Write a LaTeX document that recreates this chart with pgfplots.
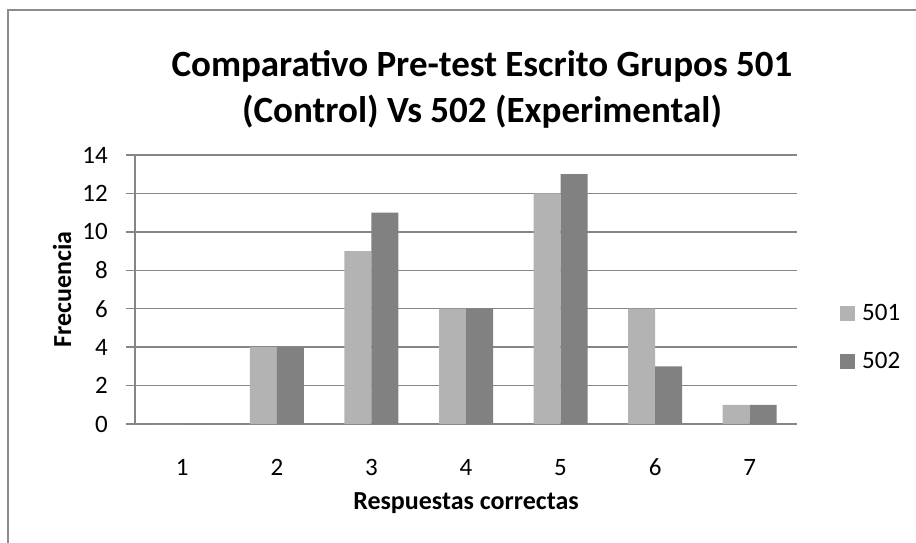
\documentclass[border=0pt]{standalone}
\usepackage{pgfplots}
\pgfplotsset{compat=1.18}
\usepackage{fontspec}
\setmainfont{Carlito}
\definecolor{gridc}{HTML}{868686}
\definecolor{lightbar}{HTML}{B3B3B3}
\definecolor{darkbar}{HTML}{818181}
\definecolor{framec}{HTML}{8C8C8C}
\begin{document}
\begin{tikzpicture}[x=1pt,y=1pt]
\useasboundingbox (0,0) rectangle (916,542);
\draw[framec, line width=2pt] (8,-5) -- (8,532) -- (921,532);
\node[anchor=base, inner sep=0pt, font=\fontsize{37}{44}\selectfont\bfseries] at (482,465) {Comparativo Pre-test Escrito Grupos 501};
\node[anchor=base, inner sep=0pt, font=\fontsize{37}{44}\selectfont\bfseries] at (482,419) {(Control) Vs 502 (Experimental)};
\begin{axis}[
  at={(135pt,118pt)}, anchor=south west,
  scale only axis, width=662pt, height=269pt,
  xmin=0.5, xmax=7.5, ymin=0, ymax=14,
  ybar=0pt, bar width=27pt,
  xtick={1,...,7}, ytick={0,2,...,14},
  axis x line*=bottom, axis y line*=left,
  axis line style={gridc, line width=1.5pt},
  ymajorgrids, major grid style={gridc, line width=1.5pt},
  xtick style={draw=none},
  ytick style={gridc, line width=1.5pt},
  ytick align=outside, major tick length=9pt,
  /pgf/number format/assume math mode=true,
  tick label style={font=\fontsize{25}{30}\selectfont, inner sep=0pt},
  yticklabel style={anchor=east, xshift=-18pt},
  xticklabel style={anchor=base, yshift=-42pt},
  xlabel={Respuestas correctas},
  ylabel={Frecuencia},
  label style={font=\fontsize{26}{31}\selectfont\bfseries, inner sep=0pt},
  x label style={at={(axis description cs:0.5,-0.318)}, anchor=base},
  y label style={at={(axis description cs:-0.1103,0.5)}, anchor=center, rotate=0},
  legend style={draw=none, fill=none, inner sep=0pt, at={(axis description cs:1.065,0.4405)}, anchor=north west,
    font=\fontsize{25}{30}\selectfont, row sep=33pt, column sep=7pt,
    nodes={inner sep=0pt, text height=15pt, text depth=0pt}},
  legend cell align=left,
  legend image code/.code={\fill[#1] (0pt,-7.5pt) rectangle (15pt,7.5pt);},
]
\addplot[fill=lightbar, draw=none] coordinates {(1,0) (2,4) (3,9) (4,6) (5,12) (6,6) (7,1)};
\addplot[fill=darkbar, draw=none] coordinates {(1,0) (2,4) (3,11) (4,6) (5,13) (6,3) (7,1)};
\legend{501,502}
\end{axis}
\end{tikzpicture}
\end{document}
